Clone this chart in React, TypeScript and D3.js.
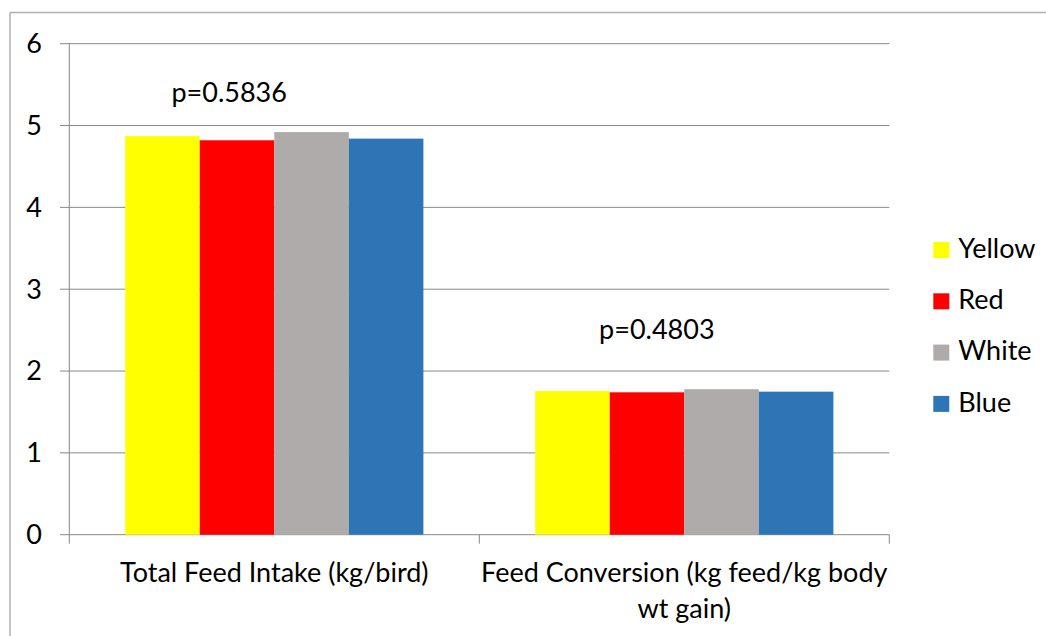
import React from "react";
import * as d3 from "d3";

const categories = ["Total Feed Intake (kg/bird)", "Feed Conversion (kg feed/kg body wt gain)"];
const categoryLines = [["Total Feed Intake (kg/bird)"], ["Feed Conversion (kg feed/kg body", "wt gain)"]];
const seriesNames = ["Yellow", "Red", "White", "Blue"];
const seriesColors = ["#FFFF00", "#FF0000", "#AFABAB", "#2E75B6"];
const yellowValues = [4.87, 1.755];
const redValues = [4.82, 1.74];
const whiteValues = [4.92, 1.778];
const blueValues = [4.84, 1.748];
const yTicks = [0, 1, 2, 3, 4, 5, 6];
const pLabels = ["p=0.5836", "p=0.4803"];
const pLabelY = [5.29, 2.39];
const pLabelXFrac = [0.39, 0.433];

const seriesValues = [yellowValues, redValues, whiteValues, blueValues];

const W = 1046;
const H = 636;
const FONT = "Lato, Carlito, Calibri, sans-serif";
const FS = 27;

export default function App() {
  const left = 69.3, right = 889.3, top = 43.7, bottom = 534.7;
  const x0 = d3.scaleBand<number>().domain(categories.map((_, i) => i)).range([left, right]).paddingInner(0).paddingOuter(0);
  const bw = x0.bandwidth();
  // Excel gap width 150%: outer padding of 0.75 bar each side
  const x1 = d3.scaleBand<number>().domain(seriesNames.map((_, i) => i)).range([bw * 0.75 / 5.5, bw - bw * 0.75 / 5.5]).paddingInner(0).paddingOuter(0);
  const y = d3.scaleLinear().domain([0, 6]).range([bottom, top]);
  const gridColor = "#888888";

  return (
    <div style={{ position: "absolute", left: 0, top: 0 }}>
      <svg width={W} height={H} style={{ display: "block" }} fontFamily={FONT}>
        <rect x={0} y={0} width={W} height={H} fill="#fff" />
        {/* chart border */}
        <line x1={10} y1={12.5} x2={W} y2={12.5} stroke="#b0b0b0" strokeWidth={1.5} />
        <line x1={10} y1={12.5} x2={10} y2={H} stroke="#b0b0b0" strokeWidth={1.5} />
        {/* gridlines */}
        {yTicks.map((t) => (
          <line key={"g" + t} x1={60} x2={right} y1={y(t)} y2={y(t)} stroke={gridColor} strokeWidth={1} />
        ))}
        {yTicks.map((t) => (
          <text key={"yl" + t} x={42} y={y(t)} dy="0.35em" textAnchor="end" fontSize={FS} fill="#000">{t}</text>
        ))}
        {/* bars */}
        {categories.map((c, ci) => (
          <g key={"c" + ci} transform={`translate(${x0(ci)},0)`}>
            {seriesNames.map((s, si) => (
              <rect key={s} x={x1(si)} width={x1.bandwidth()} y={y(seriesValues[si][ci])} height={y(0) - y(seriesValues[si][ci])} fill={seriesColors[si]} />
            ))}
          </g>
        ))}
        {/* y axis */}
        <line x1={left} x2={left} y1={top} y2={bottom} stroke={gridColor} strokeWidth={1} />
        {/* x axis ticks */}
        {[0, 1, 2].map((i) => {
          const xx = left + i * bw;
          return <line key={"xt" + i} x1={xx} x2={xx} y1={bottom} y2={bottom + 9} stroke={gridColor} strokeWidth={1} />;
        })}
        {/* category labels */}
        {categoryLines.map((lines, ci) => (
          <text key={"cl" + ci} x={(x0(ci) as number) + bw / 2} y={581.5} textAnchor="middle" fontSize={FS} fill="#000">
            {lines.map((ln, li) => (
              <tspan key={li} x={(x0(ci) as number) + bw / 2} dy={li === 0 ? 0 : 36.5}>{ln}</tspan>
            ))}
          </text>
        ))}
        {/* p-value annotations */}
        {pLabels.map((p, i) => (
          <text key={"p" + i} x={(x0(i) as number) + bw * pLabelXFrac[i]} y={y(pLabelY[i])} textAnchor="middle" fontSize={FS} fill="#000">{p}</text>
        ))}
        {/* legend */}
        {seriesNames.map((s, i) => {
          const ly = 242 + i * 51.3;
          return (
            <g key={"lg" + s}>
              <rect x={933.3} y={ly} width={16} height={16} fill={seriesColors[i]} />
              <text x={958.3} y={ly + 15.7} fontSize={FS} fill="#000">{s}</text>
            </g>
          );
        })}
      </svg>
    </div>
  );
}
